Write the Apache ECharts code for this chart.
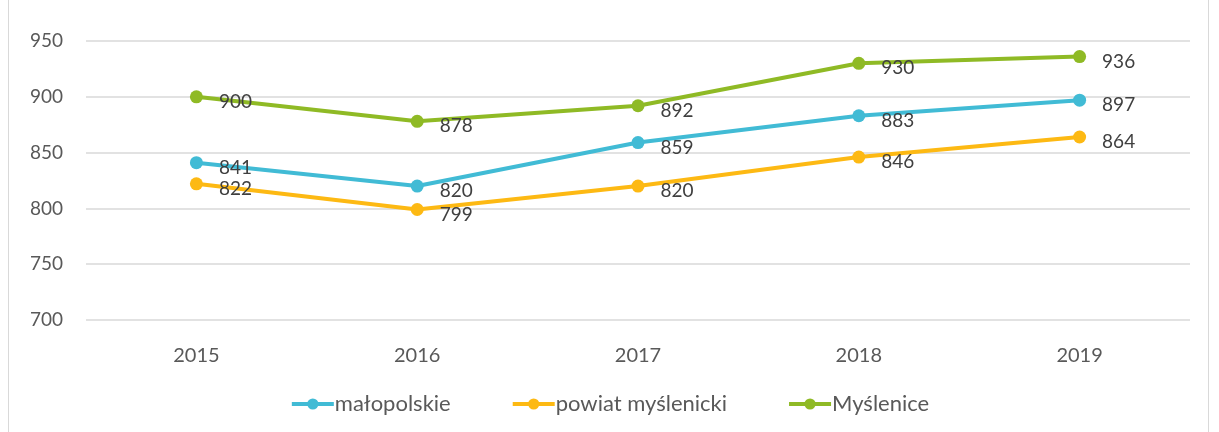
<!DOCTYPE html>
<html>
<head>
<meta charset="utf-8">
<script src="https://cdn.jsdelivr.net/npm/echarts@6/dist/echarts.min.js"></script>
<style>
  html, body { margin: 0; padding: 0; background: #fff; }
  #frame { position: absolute; left: 8px; top: -2px; width: 1201px; height: 440px; border: 1px solid #d9d9d9; box-sizing: border-box; }
  #chart { position: absolute; left: 0; top: 0; width: 1219px; height: 432px; }
</style>
</head>
<body>
<div id="frame"></div>
<div id="chart"></div>
<script>
  // dane
  var years = ['2015', '2016', '2017', '2018', '2019'];
  var malopolskie = [841, 820, 859, 883, 897];
  var powiat = [822, 799, 820, 846, 864];
  var myslenice = [900, 878, 892, 930, 936];

  var font = 'Lato, "Open Sans", sans-serif';
  var textColor = '#595959';

  function makeSeries(name, data, color) {
    return {
      name: name,
      type: 'line',
      data: data,
      symbol: 'circle',
      symbolSize: 13,
      lineStyle: { width: 4, color: color },
      itemStyle: { color: color },
      label: {
        show: true,
        position: 'right',
        distance: 16,
        offset: [0, 5],
        fontSize: 19,
        fontFamily: font,
        color: '#404040'
      }
    };
  }

  var chart = echarts.init(document.getElementById('chart'));
  var option = {
    animation: false,
    grid: { left: 86, right: 29, top: 41, bottom: 112 },
    legend: {
      bottom: 12,
      left: 'center',
      itemWidth: 42,
      itemHeight: 14,
      itemGap: 60,
      lineStyle: { width: 4 },
      textStyle: { fontSize: 22, fontFamily: font, color: textColor, padding: [0, 0, 0, -4] },
      data: ['małopolskie', 'powiat myślenicki', 'Myślenice']
    },
    xAxis: {
      type: 'category',
      data: years,
      boundaryGap: true,
      axisLine: { show: false },
      axisTick: { show: false },
      axisLabel: { margin: 26, fontSize: 20, fontFamily: font, color: textColor }
    },
    yAxis: {
      type: 'value',
      min: 700,
      max: 950,
      interval: 50,
      axisLine: { show: false },
      axisTick: { show: false },
      axisLabel: { margin: 23, fontSize: 19, fontFamily: font, color: textColor },
      splitLine: { lineStyle: { color: '#d9d9d9', width: 1.5 } }
    },
    series: [
      makeSeries('małopolskie', malopolskie, '#41bbd5'),
      makeSeries('powiat myślenicki', powiat, '#fdb913'),
      makeSeries('Myślenice', myslenice, '#8fba25')
    ]
  };
  chart.setOption(option);
  window.onresize = function() { chart.resize(); };
</script>
</body>
</html>
